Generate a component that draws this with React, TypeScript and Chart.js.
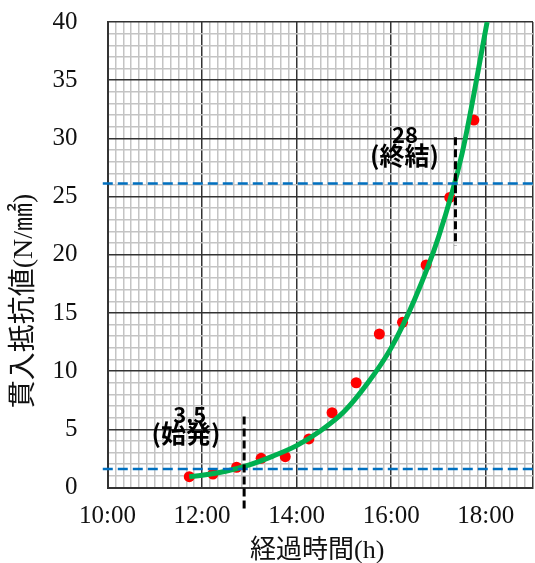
import React, { useEffect, useRef } from 'react';
import { Chart, registerables } from 'chart.js';

Chart.register(...registerables);

// measured penetration resistance (red points)
const measuredHours = [11.73, 12.23, 12.73, 13.25, 13.76, 14.26, 14.75, 15.26, 15.75, 16.24, 16.74, 17.24, 17.75];
const measuredValues = [0.93, 1.16, 1.74, 2.51, 2.65, 4.17, 6.43, 9.0, 13.19, 14.19, 19.12, 24.93, 31.57];

// fitted curve (green)
const curveHours = [11.73, 12.0, 12.5, 13.0, 13.5, 14.0, 14.5, 15.0, 15.5, 16.0, 16.5, 17.0, 17.5, 18.03];
const curveValues = [0.93, 1.05, 1.4, 1.95, 2.7, 3.6, 4.85, 6.5, 8.95, 12.0, 16.2, 21.5, 28.7, 40];

// horizontal blue dashed threshold lines
const thresholdValues = [1.6, 26.13];
const thresholdSpan = [9.9, 19.1];

// vertical black dashed marker lines
const markerHours = [12.89, 17.36];
const markerTops = [6.1, 30.1];
const markerBottoms = [-1.85, 20.8];

// annotation texts
const annoTexts = ['3.5', '(始発)', '28', '(終結)'];
const annoHours = [11.74, 11.66, 16.29, 16.28];
const annoValues = [6.23, 4.68, 30.28, 28.57];

// axes
const xMin = 10;
const xMax = 19;
const xMinorStep = 1 / 6;
const xMajorStep = 2;
const yMin = 0;
const yMax = 40;
const yMinorStep = 1;
const yMajorStep = 5;

const xTitle = '経過時間(h)';
const yTitle = '貫入抵抗値(N/㎟)';

const isMultiple = (v: number, step: number) => Math.abs(v / step - Math.round(v / step)) < 1e-6;

const zeroPad = (s: any) => {
  s.paddingTop = 0;
  s.paddingBottom = 0;
  s.paddingLeft = 0;
  s.paddingRight = 0;
};

const textPlugin = {
  id: 'textPlugin',
  afterDatasetsDraw(chart: any) {
    const ctx = chart.ctx;
    const xs = chart.scales.x;
    const ys = chart.scales.y;
    ctx.save();
    ctx.fillStyle = '#000';
    ctx.textAlign = 'center';
    ctx.textBaseline = 'middle';
    annoTexts.forEach((t, i) => {
      const isCjk = /[^\x00-\x7f]/.test(t);
      ctx.font = isCjk ? 'bold 25px "Noto Sans CJK JP", sans-serif' : 'bold 22px "Noto Sans CJK JP", sans-serif';
      ctx.fillText(t, xs.getPixelForValue(annoHours[i]), ys.getPixelForValue(annoValues[i]));
    });
    ctx.restore();
  },
  afterDraw(chart: any) {
    const ctx = chart.ctx;
    const ca = chart.chartArea;
    ctx.save();
    ctx.fillStyle = '#111';
    ctx.font = '26px "Liberation Serif", "Noto Sans CJK JP", serif';
    ctx.textAlign = 'center';
    ctx.textBaseline = 'middle';
    ctx.fillText(xTitle, (ca.left + ca.right) / 2 - 3, 551);
    ctx.translate(25, 301);
    ctx.rotate(-Math.PI / 2);
    ctx.font = '28px "Liberation Serif", "Noto Sans CJK JP", serif';
    ctx.fillText(yTitle, 0, 0);
    ctx.restore();
  },
};

export default function App() {
  const ref = useRef<HTMLCanvasElement | null>(null);

  useEffect(() => {
    if (!ref.current) return;
    const measured = measuredHours.map((h, i) => ({ x: h, y: measuredValues[i] }));
    const curve = curveHours.map((h, i) => ({ x: h, y: curveValues[i] }));

    const datasets: any[] = [];
    markerHours.forEach((h, i) => {
      datasets.push({
        data: [{ x: h, y: markerTops[i] }, { x: h, y: markerBottoms[i] }],
        showLine: true,
        borderColor: '#000',
        borderWidth: 3,
        borderDash: [8, 4],
        pointRadius: 0,
        clip: false,
        order: 0,
      });
    });
    thresholdValues.forEach((v) => {
      datasets.push({
        data: [{ x: thresholdSpan[0], y: v }, { x: thresholdSpan[1], y: v }],
        showLine: true,
        borderColor: '#0070c0',
        borderWidth: 2.5,
        borderDash: [10, 5],
        pointRadius: 0,
        clip: false,
        order: 1,
      });
    });
    datasets.push({
      data: curve,
      showLine: true,
      borderColor: '#00b050',
      borderWidth: 5,
      pointRadius: 0,
      cubicInterpolationMode: 'monotone',
      order: 2,
    });
    datasets.push({
      data: measured,
      showLine: false,
      pointRadius: 5.5,
      pointBackgroundColor: '#ff0000',
      pointBorderWidth: 0,
      order: 3,
    });

    const chart = new Chart(ref.current, {
      type: 'scatter',
      data: { datasets },
      plugins: [textPlugin],
      options: {
        animation: false,
        responsive: false,
        layout: { autoPadding: false, padding: { top: 22, right: 2, left: 0, bottom: 0 } },
        plugins: { legend: { display: false }, tooltip: { enabled: false } },
        scales: {
          x: {
            type: 'linear',
            min: xMin,
            max: xMax,
            afterBuildTicks: (s: any) => {
              const n = Math.round((xMax - xMin) / xMinorStep);
              const t = [];
              for (let i = 0; i <= n; i++) t.push({ value: xMin + i * xMinorStep });
              s.ticks = t;
            },
            afterFit: (s: any) => {
              s.height = 75.5;
              zeroPad(s);
            },
            ticks: {
              autoSkip: false,
              maxRotation: 0,
              padding: 14,
              color: '#111',
              font: { family: '"Liberation Serif", serif', size: 25 },
              callback: (v: any) => (isMultiple(Number(v), xMajorStep) ? `${Math.round(Number(v))}:00` : ''),
            },
            grid: {
              drawTicks: false,
              color: (c: any) => {
                const v = c.tick ? c.tick.value : 0;
                return isMultiple(v, xMajorStep) || v >= xMax - 1e-6 ? '#333' : '#c4c4c4';
              },
              lineWidth: 1.5,
            },
            border: { color: '#333', width: 2 },
          },
          y: {
            type: 'linear',
            min: yMin,
            max: yMax,
            afterBuildTicks: (s: any) => {
              const t = [];
              for (let v = yMin; v <= yMax; v += yMinorStep) t.push({ value: v });
              s.ticks = t;
            },
            afterFit: (s: any) => {
              s.width = 107.5;
              zeroPad(s);
            },
            ticks: {
              autoSkip: false,
              padding: 30,
              color: '#111',
              font: { family: '"Liberation Serif", serif', size: 25 },
              callback: (v: any) => (isMultiple(Number(v), yMajorStep) ? String(v) : ''),
            },
            grid: {
              drawTicks: false,
              color: (c: any) => (c.tick && isMultiple(c.tick.value, yMajorStep) ? '#333' : '#c4c4c4'),
              lineWidth: 1.5,
            },
            border: { color: '#333', width: 2 },
          },
        },
      },
    });
    return () => chart.destroy();
  }, []);

  return (
    <div style={{ position: 'absolute', left: 0, top: 0, width: 535, height: 563, background: '#fff' }}>
      <canvas ref={ref} width={535} height={563} style={{ display: 'block' }} />
    </div>
  );
}
